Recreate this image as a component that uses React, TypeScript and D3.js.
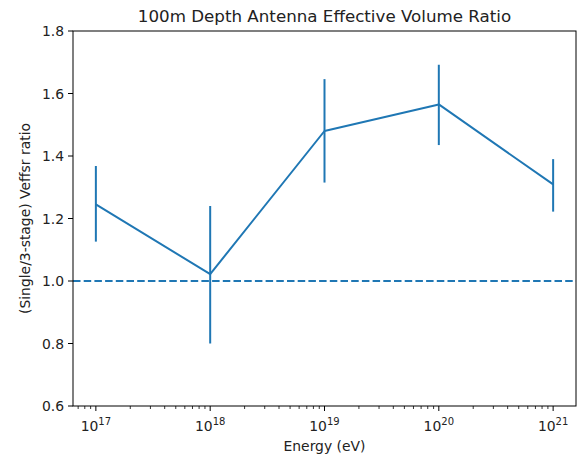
import React from "react";
import * as d3 from "d3";

const energies = [1e17, 1e18, 1e19, 1e20, 1e21];
const ratios = [1.245, 1.022, 1.48, 1.565, 1.309];
const errLow = [1.126, 0.8, 1.315, 1.435, 1.222];
const errHigh = [1.368, 1.24, 1.646, 1.692, 1.39];
const yTicks = [0.6, 0.8, 1.0, 1.2, 1.4, 1.6, 1.8];
const xMajor = [17, 18, 19, 20, 21];
const refLine = 1.0;

const W = 582, H = 462;
const L = 73, R = 576, T = 31, B = 406;
const COLOR = "#1f77b4";
const FONT = "'DejaVu Sans', sans-serif";

export default function App() {
  const x = d3.scaleLog().domain([Math.pow(10, 16.8), Math.pow(10, 21.2)]).range([L, R]);
  const y = d3.scaleLinear().domain([0.6, 1.8]).range([B, T]);
  const line = d3.line<number>().x((_, i) => x(energies[i])).y((d) => y(d));
  const minor: number[] = [];
  for (let e = 16; e <= 21; e++) for (let k = 2; k <= 9; k++) {
    const v = k * Math.pow(10, e);
    if (v >= x.domain()[0] && v <= x.domain()[1]) minor.push(v);
  }
  return (
    <svg width={W} height={H} style={{ position: "absolute", left: 0, top: 0, background: "#fff" }} fontFamily={FONT}>
      <rect x={0} y={0} width={W} height={H} fill="#fff" />
      <text x={(L + R) / 2} y={22} textAnchor="middle" fontSize={16.7} fill="#222">100m Depth Antenna Effective Volume Ratio</text>
      <line x1={L} x2={R} y1={y(refLine)} y2={y(refLine)} stroke={COLOR} strokeWidth={2} strokeDasharray="7.5,3.2" />
      {energies.map((e, i) => (
        <line key={i} x1={x(e)} x2={x(e)} y1={y(errLow[i])} y2={y(errHigh[i])} stroke={COLOR} strokeWidth={2} />
      ))}
      <path d={line(ratios) || ""} fill="none" stroke={COLOR} strokeWidth={2} strokeLinejoin="round" />
      <rect x={L} y={T} width={R - L} height={B - T} fill="none" stroke="#000" strokeWidth={1} />
      {yTicks.map((t) => (
        <g key={t}>
          <line x1={L - 5} x2={L} y1={y(t)} y2={y(t)} stroke="#000" />
          <text x={L - 9} y={y(t)} dy="0.36em" textAnchor="end" fontSize={13.9} fill="#222">{t.toFixed(1)}</text>
        </g>
      ))}
      {minor.map((v, i) => (
        <line key={i} x1={x(v)} x2={x(v)} y1={B} y2={B + 3} stroke="#000" strokeWidth={0.8} />
      ))}
      {xMajor.map((p) => (
        <g key={p}>
          <line x1={x(Math.pow(10, p))} x2={x(Math.pow(10, p))} y1={B} y2={B + 5} stroke="#000" />
          <text x={x(Math.pow(10, p))} y={431} textAnchor="middle" fontSize={13.9} fill="#222">
            10<tspan fontSize={10} dy={-6}>{p}</tspan>
          </text>
        </g>
      ))}
      <text x={(L + R) / 2} y={451} textAnchor="middle" fontSize={13.9} fill="#222">Energy (eV)</text>
      <text transform={`translate(30,${(T + B) / 2}) rotate(-90)`} textAnchor="middle" fontSize={13.9} fill="#222">(Single/3-stage) Veffsr ratio</text>
    </svg>
  );
}
